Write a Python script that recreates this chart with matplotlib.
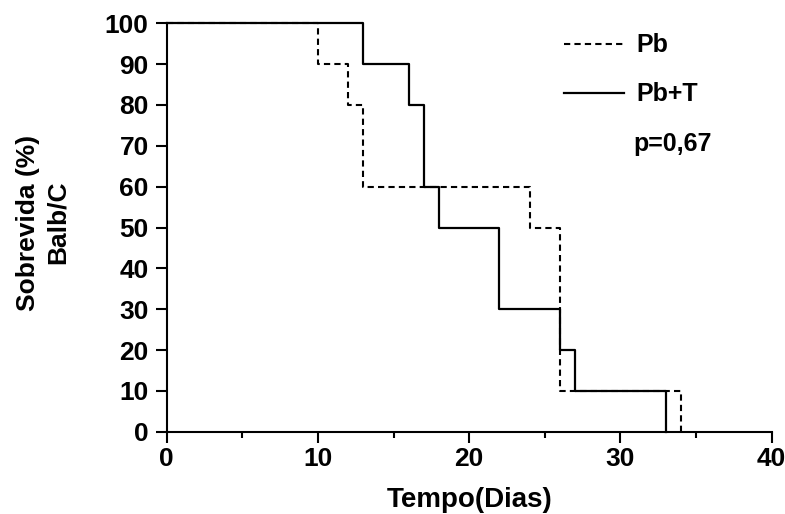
import matplotlib
matplotlib.use("Agg")
import matplotlib.pyplot as plt
from matplotlib.ticker import MultipleLocator

plt.rcParams['font.family'] = ['Liberation Sans', 'DejaVu Sans']
plt.rcParams['font.weight'] = 'bold'

# Kaplan-Meier steps (days, survival %)
pb_days = [0, 10, 12, 13, 24, 26, 34]
pb_surv = [100, 90, 80, 60, 50, 10, 0]
pbt_days = [0, 13, 16, 17, 18, 22, 26, 27, 33]
pbt_surv = [100, 90, 80, 60, 50, 30, 20, 10, 0]
labels = ['Pb', 'Pb+T']
p_text = 'p=0,67'

fig = plt.figure(figsize=(7.85, 5.14), dpi=100)
ax = fig.add_axes([0.2124, 0.160, 0.7706, 0.7947])

ax.step(pb_days, pb_surv, where='post', color='black', lw=1.5,
        dashes=(3, 2), clip_on=False, label=labels[0])
ax.step(pbt_days, pbt_surv, where='post', color='black', lw=1.6,
        clip_on=False, label=labels[1])

ax.set_xlim(0, 40)
ax.set_ylim(0, 100)
ax.xaxis.set_major_locator(MultipleLocator(10))
ax.xaxis.set_minor_locator(MultipleLocator(5))
ax.yaxis.set_major_locator(MultipleLocator(10))

for s in ['top', 'right']:
    ax.spines[s].set_visible(False)
for s in ['left', 'bottom']:
    ax.spines[s].set_linewidth(1.5)

ax.tick_params(axis='both', which='major', length=8, width=1.5, labelsize=19)
ax.tick_params(axis='x', which='major', pad=3)
ax.tick_params(axis='y', which='major', pad=5)
ax.tick_params(axis='x', which='minor', length=4.5, width=1.5)
for lab in ax.get_xticklabels() + ax.get_yticklabels():
    lab.set_fontweight('bold')

ax.set_xlabel('Tempo(Dias)', fontsize=20, fontweight='bold')
ax.xaxis.set_label_coords(0.501, -0.135)

fig.text(0.055, 0.567, 'Sobrevida (%)\nBalb/C', rotation=90, ha='center',
         va='center', multialignment='center', linespacing=1.3,
         fontsize=19, fontweight='bold')

leg = ax.legend(loc='upper left', bbox_to_anchor=(0.64, 1.0), frameon=False,
                fontsize=18, handlelength=2.4, handletextpad=0.5,
                labelspacing=1.0, borderaxespad=0)
for t in leg.get_texts():
    t.set_fontweight('bold')

ax.text(0.772, 0.705, p_text, transform=ax.transAxes, fontsize=18,
        fontweight='bold', ha='left', va='center')

fig.savefig('out.png', dpi=100)
